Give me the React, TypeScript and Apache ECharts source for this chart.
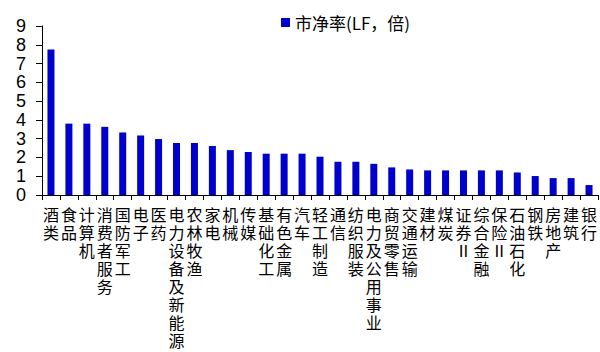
import React, { useEffect, useRef } from "react";
import * as echarts from "echarts";

// 行业市净率（LF，倍）
const categories: string[] = [
  "酒类", "食品", "计算机", "消费者服务", "国防军工", "电子", "医药",
  "电力设备及新能源", "农林牧渔", "家电", "机械", "传媒", "基础化工",
  "有色金属", "汽车", "轻工制造", "通信", "纺织服装", "电力及公用事业",
  "商贸零售", "交通运输", "建材", "煤炭", "证券Ⅱ", "综合金融", "保险Ⅱ",
  "石油石化", "钢铁", "房地产", "建筑", "银行",
];

const pbValues: number[] = [
  7.75, 3.8, 3.8, 3.63, 3.33, 3.17, 2.98,
  2.77, 2.77, 2.61, 2.39, 2.29, 2.2,
  2.2, 2.2, 2.04, 1.77, 1.77, 1.66,
  1.47, 1.36, 1.31, 1.31, 1.31, 1.31, 1.31,
  1.2, 1.01, 0.9, 0.9, 0.53,
];

const yTicks = { min: 0, max: 9, interval: 1 };
const seriesName = "市净率(LF，倍)";

const CJK = '"Noto Sans CJK SC", "Liberation Sans", sans-serif';
const LATIN = '"Liberation Sans", Arial, sans-serif';

export default function App() {
  const ref = useRef<HTMLDivElement>(null);

  useEffect(() => {
    document.body.style.margin = "0";
    if (!ref.current) return;
    const chart = echarts.init(ref.current, undefined, { renderer: "svg" });
    chart.setOption({
      animation: false,
      backgroundColor: "#ffffff",
      legend: {
        data: [seriesName],
        left: 276,
        top: 9,
        itemWidth: 9,
        itemHeight: 9,
        itemGap: 6,
        icon: "rect",
        textStyle: { color: "#000", fontSize: 17, fontFamily: CJK },
      },
      grid: { left: 42, right: 0, top: 26, bottom: 157, containLabel: false },
      xAxis: {
        type: "category",
        data: categories,
        axisLine: { show: true, lineStyle: { color: "#000", width: 1 } },
        axisTick: { show: true, length: 5, lineStyle: { color: "#000" } },
        axisLabel: {
          interval: 0,
          margin: 10,
          color: "#000",
          fontSize: 16,
          lineHeight: 18,
          fontFamily: CJK,
          formatter: (v: string) => Array.from(v).join("\n"),
        },
      },
      yAxis: {
        type: "value",
        min: yTicks.min,
        max: yTicks.max,
        interval: yTicks.interval,
        splitLine: { show: false },
        axisLine: { show: true, lineStyle: { color: "#000", width: 1 } },
        axisTick: { show: true, length: 6, lineStyle: { color: "#000" } },
        axisLabel: {
          color: "#000",
          fontSize: 18,
          margin: 16,
          fontFamily: LATIN,
        },
      },
      series: [
        {
          name: seriesName,
          type: "bar",
          data: pbValues,
          barWidth: 7,
          itemStyle: { color: "#0000CC" },
        },
      ],
    });
    return () => chart.dispose();
  }, []);

  return <div ref={ref} style={{ width: 600, height: 352 }} />;
}
